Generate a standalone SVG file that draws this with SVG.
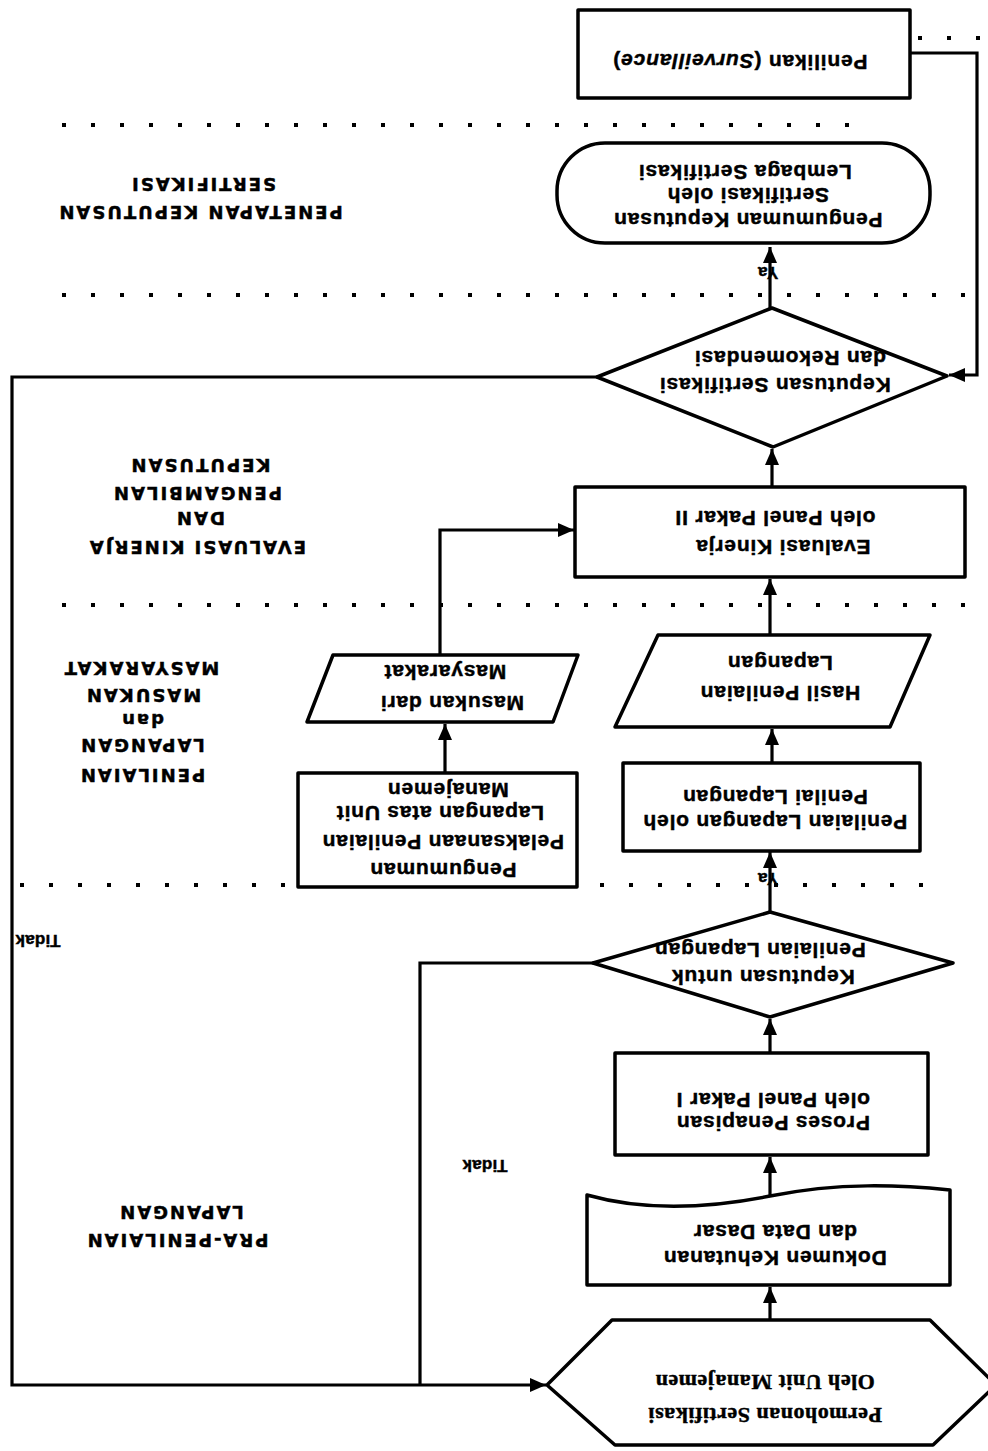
<svg xmlns="http://www.w3.org/2000/svg" width="988" height="1451" viewBox="0 0 988 1451">
<defs>
<marker id="ah" markerUnits="userSpaceOnUse" markerWidth="18" markerHeight="16" refX="16" refY="7" orient="auto"><path d="M0,0 L16,7 L0,14 z" fill="#000"/></marker>
<style>
.s{fill:#fff;stroke:#000;stroke-width:3.5;stroke-linejoin:round}
.c{fill:none;stroke:#000;stroke-width:3.2}
.d{stroke:#000;stroke-width:4;stroke-dasharray:4 25}
text{font-family:"Liberation Sans",Arial,sans-serif;font-weight:700;font-size:21px;letter-spacing:0.8px;text-anchor:middle;dominant-baseline:central;fill:#000;stroke:#000;stroke-width:0.45px}
.sf{font-family:"Liberation Serif","Times New Roman",serif;font-size:22px;letter-spacing:0.5px}
.lb{font-family:"DejaVu Sans","Liberation Sans",sans-serif;font-size:18px;letter-spacing:2px}
.sm{font-size:17px;letter-spacing:0.2px}
</style>
</defs>
<rect width="988" height="1451" fill="#fff"/>
<g id="dots">
<line class="d" x1="918" y1="38" x2="988" y2="38"/>
<line class="d" x1="62" y1="125" x2="870" y2="125"/>
<line class="d" x1="62" y1="295" x2="985" y2="295"/>
<line class="d" x1="62" y1="605" x2="985" y2="605"/>
<line class="d" x1="20" y1="885" x2="930" y2="885"/>
</g>
<g id="connectors">
<path class="c" marker-end="url(#ah)" d="M770,1320 L770,1287"/>
<path class="c" marker-end="url(#ah)" d="M770,1198 L770,1157"/>
<path class="c" marker-end="url(#ah)" d="M770,1053 L770,1019"/>
<path class="c" marker-end="url(#ah)" d="M770,912 L770,852"/>
<path class="c" marker-end="url(#ah)" d="M772,763 L772,729"/>
<path class="c" marker-end="url(#ah)" d="M770,635 L770,579"/>
<path class="c" marker-end="url(#ah)" d="M445,773 L445,724"/>
<path class="c" marker-end="url(#ah)" d="M440,655 L440,530 L574,530"/>
<path class="c" marker-end="url(#ah)" d="M772,487 L772,449"/>
<path class="c" marker-end="url(#ah)" d="M770,308 L770,247"/>
<path class="c" marker-end="url(#ah)" d="M910,53 L977,53 L977,375 L949,375"/>
<path class="c" marker-end="url(#ah)" d="M597,377 L12,377 L12,1385 L546,1385"/>
<path class="c" d="M593,963 L420,963 L420,1385"/>
<text class="sm" x="485" y="1165" transform="rotate(180 485 1165)">Tidak</text>
<text class="sm" x="38" y="940" transform="rotate(180 38 940)">Tidak</text>
<text class="sm" x="768" y="878" transform="rotate(180 768 878)">Ya</text>
<text class="sm" x="768" y="272" transform="rotate(180 768 272)">Ya</text>
</g>
<g id="n1">
<polygon class="s" points="547,1385 612,1320 930,1320 996,1385 933,1445 615,1445"/>
<text class="sf" x="765" y="1415" transform="rotate(180 765 1415)">Permohonan Sertifikasi</text>
<text class="sf" x="765" y="1382" transform="rotate(180 765 1382)">Oleh Unit Manajemen</text>
</g>
<g id="n2">
<path class="s" d="M587,1285 L950,1285 L950,1190 C900,1185 840,1182 770,1196 C700,1210 640,1210 587,1195 Z"/>
<text x="775" y="1258" transform="rotate(180 775 1258)">Dokumen Kehutanan</text>
<text x="775" y="1232" transform="rotate(180 775 1232)">dan Data Dasar</text>
</g>
<g id="n3">
<rect class="s" x="615" y="1053" width="313" height="102"/>
<text x="773" y="1123" transform="rotate(180 773 1123)">Proses Penapisan</text>
<text x="773" y="1100" transform="rotate(180 773 1100)">oleh Panel Pakar I</text>
</g>
<g id="n4">
<polygon class="s" points="770,912 953,963 770,1017 593,963"/>
<text x="763" y="977" transform="rotate(180 763 977)">Keputusan untuk</text>
<text x="760" y="950" transform="rotate(180 760 950)">Penilaian Lapangan</text>
</g>
<g id="n5">
<rect class="s" x="623" y="763" width="297" height="88"/>
<text x="775" y="822" transform="rotate(180 775 822)">Penilaian Lapangan oleh</text>
<text x="775" y="797" transform="rotate(180 775 797)">Penilai Lapangan</text>
</g>
<g id="n6">
<polygon class="s" points="658,635 930,635 890,727 615,727"/>
<text x="780" y="693" transform="rotate(180 780 693)">Hasil Penilaian</text>
<text x="780" y="663" transform="rotate(180 780 663)">Lapangan</text>
</g>
<g id="n7">
<rect class="s" x="298" y="773" width="279" height="114"/>
<text x="443" y="870" transform="rotate(180 443 870)">Pengumuman</text>
<text x="443" y="842" transform="rotate(180 443 842)">Pelaksanaan Penilaian</text>
<text x="440" y="813" transform="rotate(180 440 813)">Lapangan atas Unit</text>
<text x="448" y="790" transform="rotate(180 448 790)">Manajemen</text>
</g>
<g id="n8">
<polygon class="s" points="333,655 578,655 553,722 307,722"/>
<text x="452" y="703" transform="rotate(180 452 703)">Masukan dari</text>
<text x="445" y="672" transform="rotate(180 445 672)">Masyarakat</text>
</g>
<g id="n9">
<rect class="s" x="575" y="487" width="390" height="90"/>
<text x="783" y="547" transform="rotate(180 783 547)">Evaluasi Kinerja</text>
<text x="775" y="518" transform="rotate(180 775 518)">oleh Panel Pakar II</text>
</g>
<g id="n10">
<polygon class="s" points="772,308 947,376 773,447 597,377"/>
<text x="775" y="385" transform="rotate(180 775 385)">Keputusan Sertifikasi</text>
<text x="790" y="358" transform="rotate(180 790 358)">dan Rekomendasi</text>
</g>
<g id="n11">
<rect class="s" x="557" y="143" width="373" height="100" rx="48" ry="48"/>
<text x="748" y="220" transform="rotate(180 748 220)">Pengumuman Keputusan</text>
<text x="748" y="195" transform="rotate(180 748 195)">Sertifikasi oleh</text>
<text x="745" y="172" transform="rotate(180 745 172)">Lembaga Sertifikasi</text>
</g>
<g id="n12">
<rect class="s" x="578" y="10" width="332" height="88"/>
<text x="740" y="62" transform="rotate(180 740 62)">Penilikan (<tspan font-style="italic">Surveillance</tspan>)</text>
</g>
<g id="labels">
<text class="lb" x="200" y="212" transform="rotate(180 200 212)">PENETAPAN KEPUTUSAN</text>
<text class="lb" x="203" y="184" transform="rotate(180 203 184)">SERTIFIKASI</text>
<text class="lb" x="197" y="547" transform="rotate(180 197 547)">EVALUASI KINERJA</text>
<text class="lb" x="200" y="518" transform="rotate(180 200 518)">DAN</text>
<text class="lb" x="197" y="493" transform="rotate(180 197 493)">PENGAMBILAN</text>
<text class="lb" x="200" y="465" transform="rotate(180 200 465)">KEPUTUSAN</text>
<text class="lb" x="142" y="775" transform="rotate(180 142 775)">PENILAIAN</text>
<text class="lb" x="142" y="745" transform="rotate(180 142 745)">LAPANGAN</text>
<text class="lb" x="142" y="720" transform="rotate(180 142 720)">dan</text>
<text class="lb" x="143" y="695" transform="rotate(180 143 695)">MASUKAN</text>
<text class="lb" x="141" y="668" transform="rotate(180 141 668)">MASYARAKAT</text>
<text class="lb" x="177" y="1240" transform="rotate(180 177 1240)">PRA-PENILAIAN</text>
<text class="lb" x="181" y="1212" transform="rotate(180 181 1212)">LAPANGAN</text>
</g>
</svg>
